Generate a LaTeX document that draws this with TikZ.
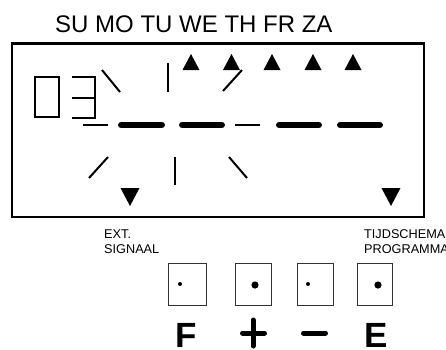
\documentclass[tikz,border=0pt]{standalone}
\usepackage{fontspec}
\setmainfont{Liberation Sans}
\begin{document}
\begin{tikzpicture}[x=1pt,y=-1pt,
  seg/.style={line width=2pt,line cap=butt},
  bar/.style={line width=6.5pt,line cap=round},
  thin/.style={line width=2pt},
  tri/.style={fill=black},
  key/.style={draw=black!80,line width=1pt},
  lbl/.style={inner sep=0pt,anchor=base west,font=\fontsize{12.7}{15}\selectfont},
  big/.style={inner sep=0pt,anchor=base west,font=\fontsize{35}{40}\selectfont\bfseries},
  sym/.style={line width=5pt,line cap=round}]
\clip (0,0) rectangle (446,349);
\fill[white] (0,0) rectangle (446,349);
% title
\node[inner sep=0pt,anchor=base west,font=\fontsize{24}{28}\selectfont] (days) at (55,32) {SU MO TU WE TH FR ZA};
% display frame
\draw[line width=2.5pt] (12,43.5) rectangle (424,217);
% digits 03
\draw[thin] (35,77) rectangle (59,117);
\draw[thin] (72,77) -- (95,77) -- (95,118) -- (72,118);
\draw[thin] (72,98) -- (95,98);
% rays
\draw[seg] (102,70) -- (120,92);
\draw[seg] (168,63) -- (168,92);
\draw[seg] (242,70) -- (223,91);
\draw[seg] (108,157) -- (89,178);
\draw[seg] (175,157) -- (175,185);
\draw[seg] (229,157) -- (247,178);
% dashes
\draw[thin] (83,125) -- (108,125);
\draw[bar] (121.25,125) -- (161.75,125);
\draw[bar] (182.25,125) -- (221.75,125);
\draw[thin] (235,125) -- (260,125);
\draw[bar] (279.25,125) -- (318.75,125);
\draw[bar] (340.25,125) -- (379.75,125);
% up triangles
\foreach \cx in {191,231.5,272,313,353}
  \fill[tri] (\cx-8.5,70) -- (\cx+8.5,70) -- (\cx,54) -- cycle;
% down triangles
\foreach \cx in {130,391}
  \fill[tri] (\cx-9.5,188) -- (\cx+9.5,188) -- (\cx,206) -- cycle;
% labels
\node[lbl] (ext) at (104,238) {EXT.};
\node[lbl] (sig) at (104,253) {SIGNAAL};
\node[lbl] (tijd) at (364,238) {TIJDSCHEMA};
\node[lbl] (prog) at (364,253) {PROGRAMMA};
% keys
\draw[key] (168,263) rectangle (206,305);
\draw[key] (235.5,263) rectangle (271.5,305);
\draw[key] (297,263) rectangle (333,305);
\draw[key] (357,263) rectangle (392,305);
\fill (180,284) circle (2);
\fill (255,285) circle (3.6);
\fill (308,284) circle (2);
\fill (378,285) circle (3.6);
% key symbols
\node[big] (kf) at (175.5,347) {F};
\draw[sym] (242.5,333) -- (264.5,333);
\draw[sym] (253,320) -- (253,346);
\draw[sym] (303.5,333) -- (325.5,333);
\node[big] (ke) at (364.5,347) {E};
\end{tikzpicture}
\end{document}
